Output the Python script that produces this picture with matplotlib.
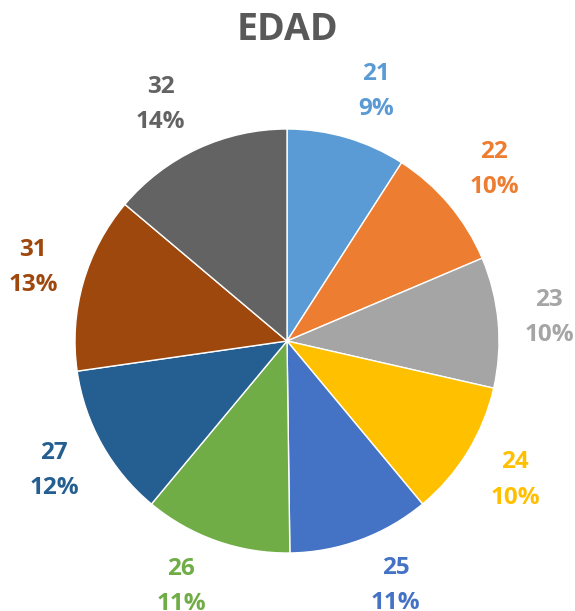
import numpy as np
import matplotlib.pyplot as plt

# Datos (edades)
edades = ["21", "22", "23", "24", "25", "26", "27", "31", "32"]
valores = [21, 22, 23, 24, 25, 26, 27, 31, 32]
colores = ["#5B9BD5", "#ED7D31", "#A5A5A5", "#FFC000", "#4472C4",
           "#70AD47", "#255E91", "#9E480E", "#636363"]

plt.rcParams['font.family'] = ['Open Sans', 'DejaVu Sans']

fig = plt.figure(figsize=(5.75, 6.11), dpi=100)
# eje centrado en el pastel (centro ~ (287, 341) px, radio ~212 px)
ax = fig.add_axes([(287 - 212) / 575, (611 - 341 - 212) / 611,
                   424 / 575, 424 / 611])

total = sum(valores)
etiquetas = [f"{e}\n{round(v / total * 100)}%" for e, v in zip(edades, valores)]

wedges, texts = ax.pie(valores, labels=etiquetas, colors=colores,
                       startangle=90, counterclock=False,
                       labeldistance=1.25,
                       wedgeprops=dict(edgecolor='white', linewidth=1),
                       textprops=dict(fontsize=17.5, fontweight='bold'))

# etiquetas al estilo Excel: punto de anclaje fuera del borde y caja desplazada
r_ancla, hw, hh = 1.113, 0.127, 0.108
for w, t, c in zip(wedges, texts, colores):
    ang = np.deg2rad((w.theta1 + w.theta2) / 2)
    ux, uy = np.cos(ang), np.sin(ang)
    x = r_ancla * ux + hw * np.clip(3 * ux, -1, 1)
    y = r_ancla * uy + hh * np.clip(1.3 * uy, -1, 1)
    t.set_position((x, y))
    t.set_color(c)
    t.set_ha('center')
    t.set_va('center')
    t.set_linespacing(1.62)

ax.set_xlim(-1, 1)
ax.set_ylim(-1, 1)
ax.set_aspect('equal')

fig.text(287 / 575, 1 - 30 / 611, "EDAD", ha='center', va='center',
         fontsize=27, fontweight='bold', color='#595959')

fig.savefig("out.png", dpi=100)
